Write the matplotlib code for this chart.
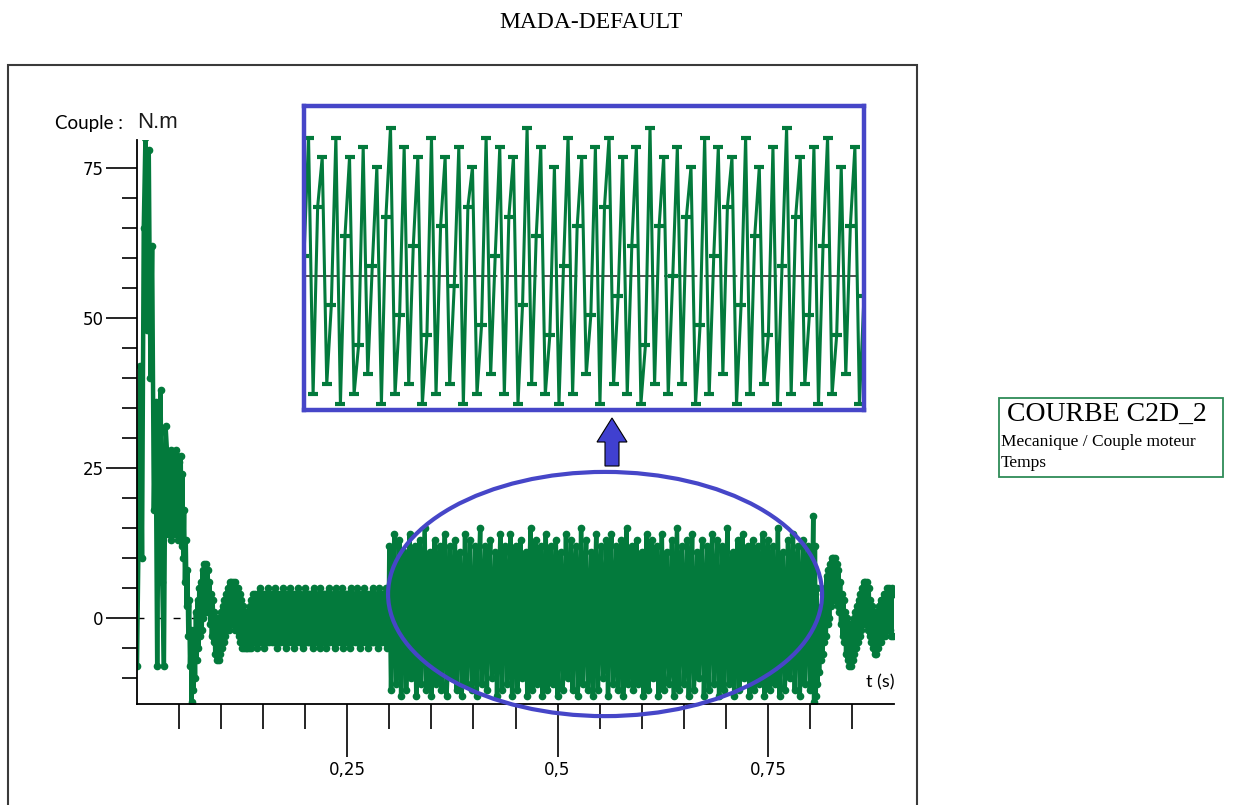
import numpy as np
import matplotlib.pyplot as plt
from matplotlib.patches import Ellipse, Rectangle, Polygon

# demarrage (pic) : 0 -> 0.034 s, pas 2 ms
t_pic, dt_pic = 0.0, 0.002
couple_pic = [-8, 15, 42, 10, 65, 80, 48, 78, 40, 62, 18, 36, -8, 28, 38, 6, -8, 32]

# demarrage (oscillations) : 0.036 -> 0.139 s, pas 1 ms
t_demarrage, dt_demarrage = 0.036, 0.001
couple_demarrage = [
    27, 14, 26, 15, 28, 13, 27, 15, 26, 14, 28, 15, 27, 13, 26, 14, 27, 12, 24,
    10, 18, 6, 13, 2, 8, -3, 3, -8, -2, -14,
    -5, -12, -2, -10, 1, -7, 3, -5, 5, -3, 6, -2, 8, 0, 9, 1, 9, 2,
    8, 1, 6, -1, 4, -3, 3, -4, 1, -6, 0, -7, 0, -7,
    0, -6, 1, -5, 2, -4, 3, -3, 4, -2, 5, -2, 6, -1, 6, -1, 6, -1, 6, -2, 5, -2, 5,
    -3, 4, -4, 3, -5, 2, -5, 1, -5, 1, -5, 0, -5, 2, -5, 3, -4, 4, -4,
]

# regime etabli : 0.14 -> 0.299 s, pas 1 ms
t_regime, dt_regime = 0.140, 0.001
couple_regime = [
    4, -4, 3, -5, 4, -3, 5, -4, 3, -4, 4, -5, 4, -3, 3, -4, 5, -4, 4, -3,
    3, -4, 4, -4, 5, -3, 4, -5, 3, -4, 4, -4, 3, -3, 5, -4, 4, -5, 3, -4,
    4, -3, 5, -4, 3, -4, 4, -5, 4, -4, 3, -3, 5, -4, 4, -4, 3, -5, 4, -3,
    5, -4, 3, -4, 4, -4, 4, -3, 3, -5, 5, -4, 4, -4, 3, -3, 4, -5, 5, -4,
    3, -4, 4, -3, 4, -5, 3, -4, 5, -4, 4, -3, 3, -4, 4, -5, 5, -4, 3, -4,
    4, -3, 4, -4, 5, -5, 3, -4, 4, -3, 4, -4, 3, -5, 5, -4, 4, -3, 3, -4,
    4, -4, 5, -3, 3, -5, 4, -4, 4, -3, 5, -4, 3, -4, 4, -5, 4, -3, 3, -4,
    5, -4, 4, -4, 3, -3, 4, -5, 5, -4, 3, -4, 4, -3, 4, -4, 5, -5, 3, -4,
]

# defaut : 0.30 -> 0.802 s, pas 2 ms
t_defaut, dt_defaut = 0.300, 0.002
couple_defaut = [
    12, -12, 3, 14, -11, -5, 13, -13, 6, 11, -12, -2,
    14, -10, 4, 12, -13, -7, 13, -11, 2, 15, -12, -4,
    11, -13, 7, 13, -11, -3, 12, -12, 5, 14, -13, -6,
    12, -10, 1, 13, -12, 8, 11, -13, -4, 14, -11, 3,
    13, -12, -6, 12, -13, 5, 15, -11, -2, 12, -12, 6,
    13, -10, -5, 11, -13, 2, 14, -12, 7, 12, -11, -3,
    14, -13, 4, 12, -12, -7, 13, -10, 1, 11, -13, 6,
    15, -12, -4, 13, -11, 3, 12, -13, -6, 14, -12, 5,
    12, -11, -1, 13, -13, 7, 11, -12, -5, 14, -10, 2,
    13, -12, 6, 12, -13, -3, 15, -11, 4, 13, -12, -6,
    11, -13, 1, 14, -12, 5, 12, -10, -4, 13, -13, 7,
    14, -11, -2, 12, -12, 3, 13, -13, -7, 15, -11, 5,
    12, -12, 0, 13, -11, 6, 11, -13, -5, 14, -12, 2,
    13, -10, 7, 12, -13, -3, 14, -12, 4, 11, -11, -6,
    13, -13, 1, 15, -12, 6, 12, -11, -4, 13, -13, 3,
    14, -12, -6, 11, -10, 5, 13, -13, -2, 12, -12, 7,
    14, -11, 2, 13, -13, -5, 12, -12, 4, 15, -11, -3,
    11, -13, 6, 13, -12, -1, 14, -10, 3, 12, -13, -7,
    13, -12, 5, 12, -11, -4, 14, -13, 1, 13, -12, 6,
    12, -11, -3, 15, -13, 4, 11, -12, -6, 13, -10, 2,
    14, -12, 7, 12, -13, -2, 13, -11, 5, 12, -12, -4,
]

# elimination du defaut : 0.804 -> 0.90 s, pas 1 ms
t_fin, dt_fin = 0.804, 0.001
couple_fin = [
    17, -14, 12, -13, 5, -11, 0, -9, 1, -7, 2, -6, 4, -4, 5, -3, 7, -1, 8, 0,
    9, 2, 10, 3, 10, 3, 10, 3, 9, 2, 8, 1, 6, -1, 4, -3, 3, -4, 1, -6,
    0, -7, -1, -8, -1, -8, -1, -7, 0, -6, 1, -5, 2, -4, 3, -3, 4, -2, 5, -1,
    6, -1, 6, -1, 6, -2, 5, -3, 3, -4, 2, -5, 1, -6, 1, -6, 1, -5, 2, -4,
    3, -4, 3, -3, 4, -3, 4, -2, 5, -2, 5, -2, 4, -3, 5, -3, 4,
]

y_ticks = [0, 25, 50, 75]
x_ticks = [0.25, 0.5, 0.75]
x_tick_labels = ["0,25", "0,5", "0,75"]

segments = [
    (t_pic, dt_pic, couple_pic),
    (t_demarrage, dt_demarrage, couple_demarrage),
    (t_regime, dt_regime, couple_regime),
    (t_defaut, dt_defaut, couple_defaut),
    (t_fin, dt_fin, couple_fin),
]
temps = np.concatenate([t0 + np.arange(len(c)) * d for t0, d, c in segments])
couple = np.concatenate([np.array(c, dtype=float) for _, _, c in segments])

W, H = 1237, 805
vert = "#037a3c"
bleu = "#4646c8"


def fx(x):
    return x / W


def fy(y):
    return 1 - y / H


fig = plt.figure(figsize=(W / 100, H / 100), dpi=100)

# cadre exterieur
fig.add_artist(Rectangle((fx(8), -0.05), fx(917) - fx(8), fy(65) + 0.05,
                         transform=fig.transFigure, fill=False,
                         edgecolor="#3a3a3a", linewidth=1.5))

fig.text(fx(591), fy(22), "MADA-DEFAULT", ha="center", va="center",
         family="Liberation Serif", fontsize=17)

ax = fig.add_axes([fx(137), fy(704), fx(894) - fx(137), fy(140) - fy(704)])
ax.axhline(0, color="black", linewidth=1, linestyle=(0, (5, 8)), zorder=1)
ax.plot(temps, couple, color=vert, linewidth=3.2, marker="o", markersize=4.5,
        solid_joinstyle="miter", zorder=2)

ax.set_xlim(0, 0.9)
ax.set_ylim(-14.33, 79.67)
ax.spines["top"].set_visible(False)
ax.spines["right"].set_visible(False)
for s in ("left", "bottom"):
    ax.spines[s].set_linewidth(1.3)

ax.set_yticks(y_ticks)
ax.set_yticks([v for v in range(-10, 75, 5) if v % 25 != 0], minor=True)
ax.set_xticks(x_ticks)
ax.set_xticklabels(x_tick_labels)
ax.set_xticks([k * 0.05 for k in range(1, 18) if k % 5 != 0], minor=True)
ax.tick_params(axis="y", which="major", length=22, width=1.2, pad=2,
               labelsize=12)
ax.tick_params(axis="y", which="minor", length=11, width=1.2)
ax.tick_params(axis="x", which="major", length=38, width=1.2, pad=3,
               labelsize=12)
ax.tick_params(axis="x", which="minor", length=18, width=1.2)

# zone zoomee
ax.add_patch(Ellipse((0.5565, 4.0), 0.516, 40.7, fill=False, edgecolor=bleu,
                     linewidth=3, clip_on=False, zorder=4))

fig.text(fx(55), fy(124), "Couple :", ha="left", va="center",
         family="Lato", fontsize=13.5)
fig.text(fx(137), fy(123), "N.m", ha="left", va="center",
         family="Liberation Sans", fontsize=16, color="#1a1a1a")
fig.text(fx(866), fy(682), "t (s)", ha="left", va="center",
         family="Lato", fontsize=13)

# encart (zoom du defaut)
axz = fig.add_axes([fx(304), fy(410), fx(864) - fx(304), fy(106) - fy(410)])
axz.axhline(0, color="#333333", linewidth=1.2, linestyle=(0, (20, 4)), zorder=1)
axz.plot(temps, couple, color=vert, linewidth=2.2, marker="_", markersize=7,
         markeredgewidth=3, zorder=2)
axz.set_xlim(0.43, 0.676)
axz.set_ylim(-13.6, 17.2)
axz.set_xticks([])
axz.set_yticks([])
for s in axz.spines.values():
    s.set_edgecolor(bleu)
    s.set_linewidth(3.2)

# fleche
fleche = [(612, 418), (627, 442), (619, 442), (619, 466), (605, 466),
          (605, 442), (597, 442)]
fig.add_artist(Polygon([(fx(x), fy(y)) for x, y in fleche], closed=True,
                       transform=fig.transFigure, facecolor="#4040d0",
                       edgecolor="black", linewidth=0.8))

# cartouche
fig.add_artist(Rectangle((fx(999), fy(477)), fx(1223) - fx(999),
                         fy(398) - fy(477), transform=fig.transFigure,
                         fill=False, edgecolor="#2e8b57", linewidth=1.3))
fig.text(fx(1007), fy(414), "COURBE C2D_2", ha="left", va="center",
         family="Liberation Serif", fontsize=20)
fig.text(fx(1001), fy(442), "Mecanique / Couple moteur", ha="left",
         va="center", family="Liberation Serif", fontsize=12.5)
fig.text(fx(1001), fy(463), "Temps", ha="left", va="center",
         family="Liberation Serif", fontsize=12.5)

fig.savefig("out.png", dpi=100)
